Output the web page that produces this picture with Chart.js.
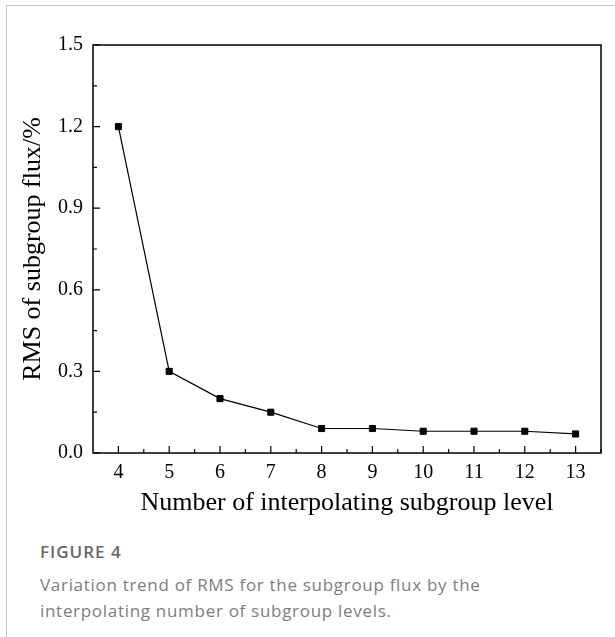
<!DOCTYPE html>
<html>
<head>
<meta charset="utf-8">
<script src="https://cdn.jsdelivr.net/npm/chart.js@4"></script>
<style>
  body { margin: 0; background: #fff; width: 615px; height: 637px; overflow: hidden; position: relative; }
  #frame { position: absolute; left: 6px; top: 5px; right: 0; bottom: 0; border-top: 1.5px solid #c8c8c8; border-left: 1.5px solid #c8c8c8; }
  #chartBox { position: absolute; left: 0; top: 0; width: 615px; height: 530px; }
  .fig { position: absolute; left: 40px; top: 541px; font-family: "Open Sans", sans-serif; font-size: 17px; font-weight: 600; letter-spacing: 1px; color: #666; line-height: 22px; }
  .cap { position: absolute; left: 40px; top: 572px; font-family: "Open Sans", sans-serif; font-size: 17px; letter-spacing: 0.7px; color: #7d7d7d; line-height: 25.5px; white-space: nowrap; }
</style>
</head>
<body>
<div id="frame"></div>
<div id="chartBox"><canvas id="rmsChart" width="615" height="530"></canvas></div>
<div class="fig">FIGURE 4</div>
<div class="cap">Variation trend of RMS for the subgroup flux by the<br>interpolating number of subgroup levels.</div>
<script>
// subgroup levels and RMS values
const levels = [4, 5, 6, 7, 8, 9, 10, 11, 12, 13]
const rmsValues = [1.2, 0.3, 0.2, 0.15, 0.09, 0.09, 0.08, 0.08, 0.08, 0.07]
const yTickValues = [0, 0.3, 0.6, 0.9, 1.2, 1.5]
const xMinorTicks = [4.5, 5.5, 6.5, 7.5, 8.5, 9.5, 10.5, 11.5, 12.5, 13.5]
const yMinorTicks = [0.15, 0.45, 0.75, 1.05, 1.35]

const serif = 'Liberation Serif, Times New Roman, serif'

// box round the plot and inward ticks on left and bottom
const frameTicks = {
  id: 'frameTicks',
  afterDatasetsDraw(chart) {
    const { ctx, chartArea: a, scales } = chart
    ctx.save()
    ctx.strokeStyle = '#000'
    ctx.lineWidth = 1.5
    ctx.strokeRect(a.left, a.top, a.right - a.left, a.bottom - a.top)
    ctx.lineWidth = 1.2
    ctx.beginPath()
    levels.forEach(v => {
      const x = scales.x.getPixelForValue(v)
      ctx.moveTo(x, a.bottom); ctx.lineTo(x, a.bottom - 7)
    })
    xMinorTicks.forEach(v => {
      const x = scales.x.getPixelForValue(v)
      ctx.moveTo(x, a.bottom); ctx.lineTo(x, a.bottom - 4)
    })
    yTickValues.forEach(v => {
      const y = scales.y.getPixelForValue(v)
      ctx.moveTo(a.left, y); ctx.lineTo(a.left + 7, y)
    })
    yMinorTicks.forEach(v => {
      const y = scales.y.getPixelForValue(v)
      ctx.moveTo(a.left, y); ctx.lineTo(a.left + 4, y)
    })
    ctx.stroke()
    ctx.restore()
  }
}

const rctx = document.getElementById('rmsChart').getContext('2d')
const rmsChart = new Chart(rctx, {
  type: 'line',
  data: {
    datasets: [{
      label: 'RMS',
      data: levels.map((lv, i) => ({ x: lv, y: rmsValues[i] })),
      borderColor: '#000',
      borderWidth: 1.2,
      pointStyle: 'rect',
      pointRadius: 4.3,
      pointBorderWidth: 1,
      pointBackgroundColor: '#000',
      pointBorderColor: '#000',
      clip: false
    }]
  },
  options: {
    responsive: false,
    animation: false,
    layout: { padding: { top: 45, right: 14, left: 0, bottom: 0 } },
    plugins: {
      legend: { display: false },
      tooltip: { enabled: false }
    },
    scales: {
      x: {
        type: 'linear',
        min: 3.5,
        max: 13.5,
        grid: { display: false, drawTicks: false },
        border: { display: false },
        afterBuildTicks: s => { s.ticks = levels.map(v => ({ value: v })) },
        afterFit: s => { s.height = 77 },
        ticks: {
          color: '#000',
          font: { family: serif, size: 20 },
          padding: 8,
          maxRotation: 0,
          callback: v => String(v)
        },
        title: {
          display: true,
          text: 'Number of interpolating subgroup level',
          color: '#000',
          font: { family: serif, size: 26 },
          padding: { top: 0, bottom: 11 }
        }
      },
      y: {
        min: 0,
        max: 1.5,
        grid: { display: false, drawTicks: false },
        border: { display: false },
        afterBuildTicks: s => { s.ticks = yTickValues.map(v => ({ value: v })) },
        afterFit: s => { s.width = 93 },
        ticks: {
          color: '#000',
          font: { family: serif, size: 20 },
          padding: 10,
          callback: v => v.toFixed(1)
        },
        title: {
          display: true,
          text: 'RMS of subgroup flux/%',
          color: '#000',
          font: { family: serif, size: 26 },
          padding: { top: 18, bottom: 0 }
        }
      }
    }
  },
  plugins: [frameTicks]
})
</script>
</body>
</html>
